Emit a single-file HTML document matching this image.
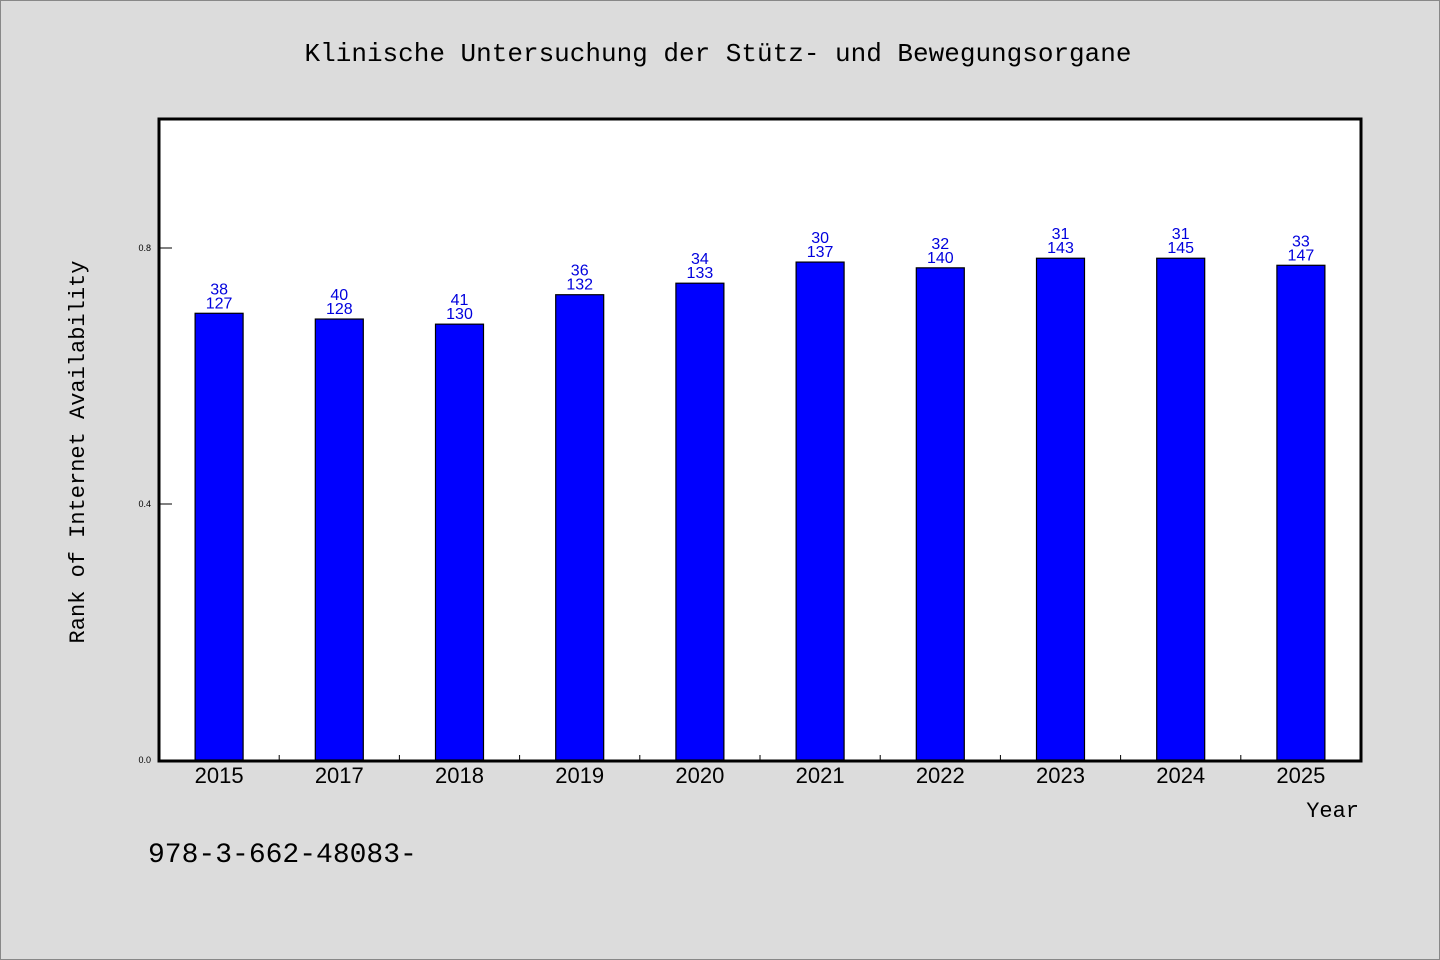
<!DOCTYPE html>
<html><head><meta charset="utf-8"><style>
body{margin:0;background:#dcdcdc;}
svg{display:block;}
</style></head><body>
<svg id="chart" width="1440" height="960" xmlns="http://www.w3.org/2000/svg">
<rect x="0.5" y="0.5" width="1439" height="959" fill="#dcdcdc" stroke="#888"/>
<text x="718" y="61" text-anchor="middle" font-family="'WenQuanYi Zen Hei', 'Liberation Mono', monospace" font-size="26" fill="#000">Klinische Untersuchung der Stütz- und Bewegungsorgane</text>
<rect x="159" y="119" width="1202" height="642" fill="#fff"/>
<g id="bars"></g>
<g id="ticks"></g>
<rect x="159" y="119" width="1202" height="642" fill="none" stroke="#000" stroke-width="3"/>
<text transform="translate(84,452) rotate(-90)" text-anchor="middle" font-family="'WenQuanYi Zen Hei', 'Liberation Mono', monospace" font-size="22" fill="#000">Rank of Internet Availability</text>
<text x="1359" y="817" text-anchor="end" font-family="'WenQuanYi Zen Hei', 'Liberation Mono', monospace" font-size="22" fill="#000">Year</text>
<text x="148" y="862" font-family="'WenQuanYi Zen Hei', 'Liberation Mono', monospace" font-size="28" fill="#000">978-3-662-48083-</text>
</svg>
<script>
const categories = ["2015","2017","2018","2019","2020","2021","2022","2023","2024","2025"];
const values = [0.698,0.689,0.681,0.727,0.745,0.778,0.769,0.784,0.784,0.773];
const topLabels = ["38","40","41","36","34","30","32","31","31","33"];
const bottomLabels = ["127","128","130","132","133","137","140","143","145","147"];
const yTicks = [0.0,0.4,0.8];
const yTickLabels = ["0.0","0.4","0.8"];

const NS="http://www.w3.org/2000/svg";
const X0=159, X1=1361, Y0=760, YTOP=120, YMAX=1.0;
const band=(X1-X0)/categories.length;
function xc(i){return X0+band*(i+0.5);}
function y(v){return Y0-(v/YMAX)*(Y0-YTOP);}
function mk(tag,attrs){const e=document.createElementNS(NS,tag);for(const k in attrs)e.setAttribute(k,attrs[k]);return e;}
const bars=document.getElementById('bars'), ticks=document.getElementById('ticks');
categories.forEach((c,i)=>{
  const bw=48, top=y(values[i]);
  const r=mk('rect',{x:xc(i)-bw/2,y:top,width:bw,height:Y0-top,fill:'#0000ff',stroke:'#000','stroke-width':1.2});
  
  
  bars.appendChild(r);
  const t1=mk('text',{x:xc(i),y:top-19,'text-anchor':'middle','font-family':'Liberation Sans, sans-serif','font-size':16,fill:'#0000dd'});
  t1.textContent=topLabels[i];
  
  
  bars.appendChild(t1);
  const t2=mk('text',{x:xc(i),y:top-5,'text-anchor':'middle','font-family':'Liberation Sans, sans-serif','font-size':16,fill:'#0000dd'});
  t2.textContent=bottomLabels[i];
  
  
  bars.appendChild(t2);
  const xl=mk('text',{x:xc(i),y:783,'text-anchor':'middle','font-family':'Liberation Sans, sans-serif','font-size':22,fill:'#000'});
  xl.textContent=c;
  
  
  ticks.appendChild(xl);
  if(i>0){
    const tk=mk('line',{x1:X0+band*i,x2:X0+band*i,y1:Y0,y2:Y0-5,stroke:'#000','stroke-width':1});
    
    
    ticks.appendChild(tk);
  }
});
yTicks.forEach((v,i)=>{
  const tk=mk('line',{x1:X0,x2:X0+13,y1:y(v),y2:y(v),stroke:'#000','stroke-width':1});
  
  
  ticks.appendChild(tk);
  const tl=mk('text',{x:151,y:y(v)+3,'text-anchor':'end','font-family':'Liberation Sans, sans-serif','font-size':9,fill:'#000'});
  tl.textContent=yTickLabels[i];
  
  
  ticks.appendChild(tl);
});
</script>
</body></html>
